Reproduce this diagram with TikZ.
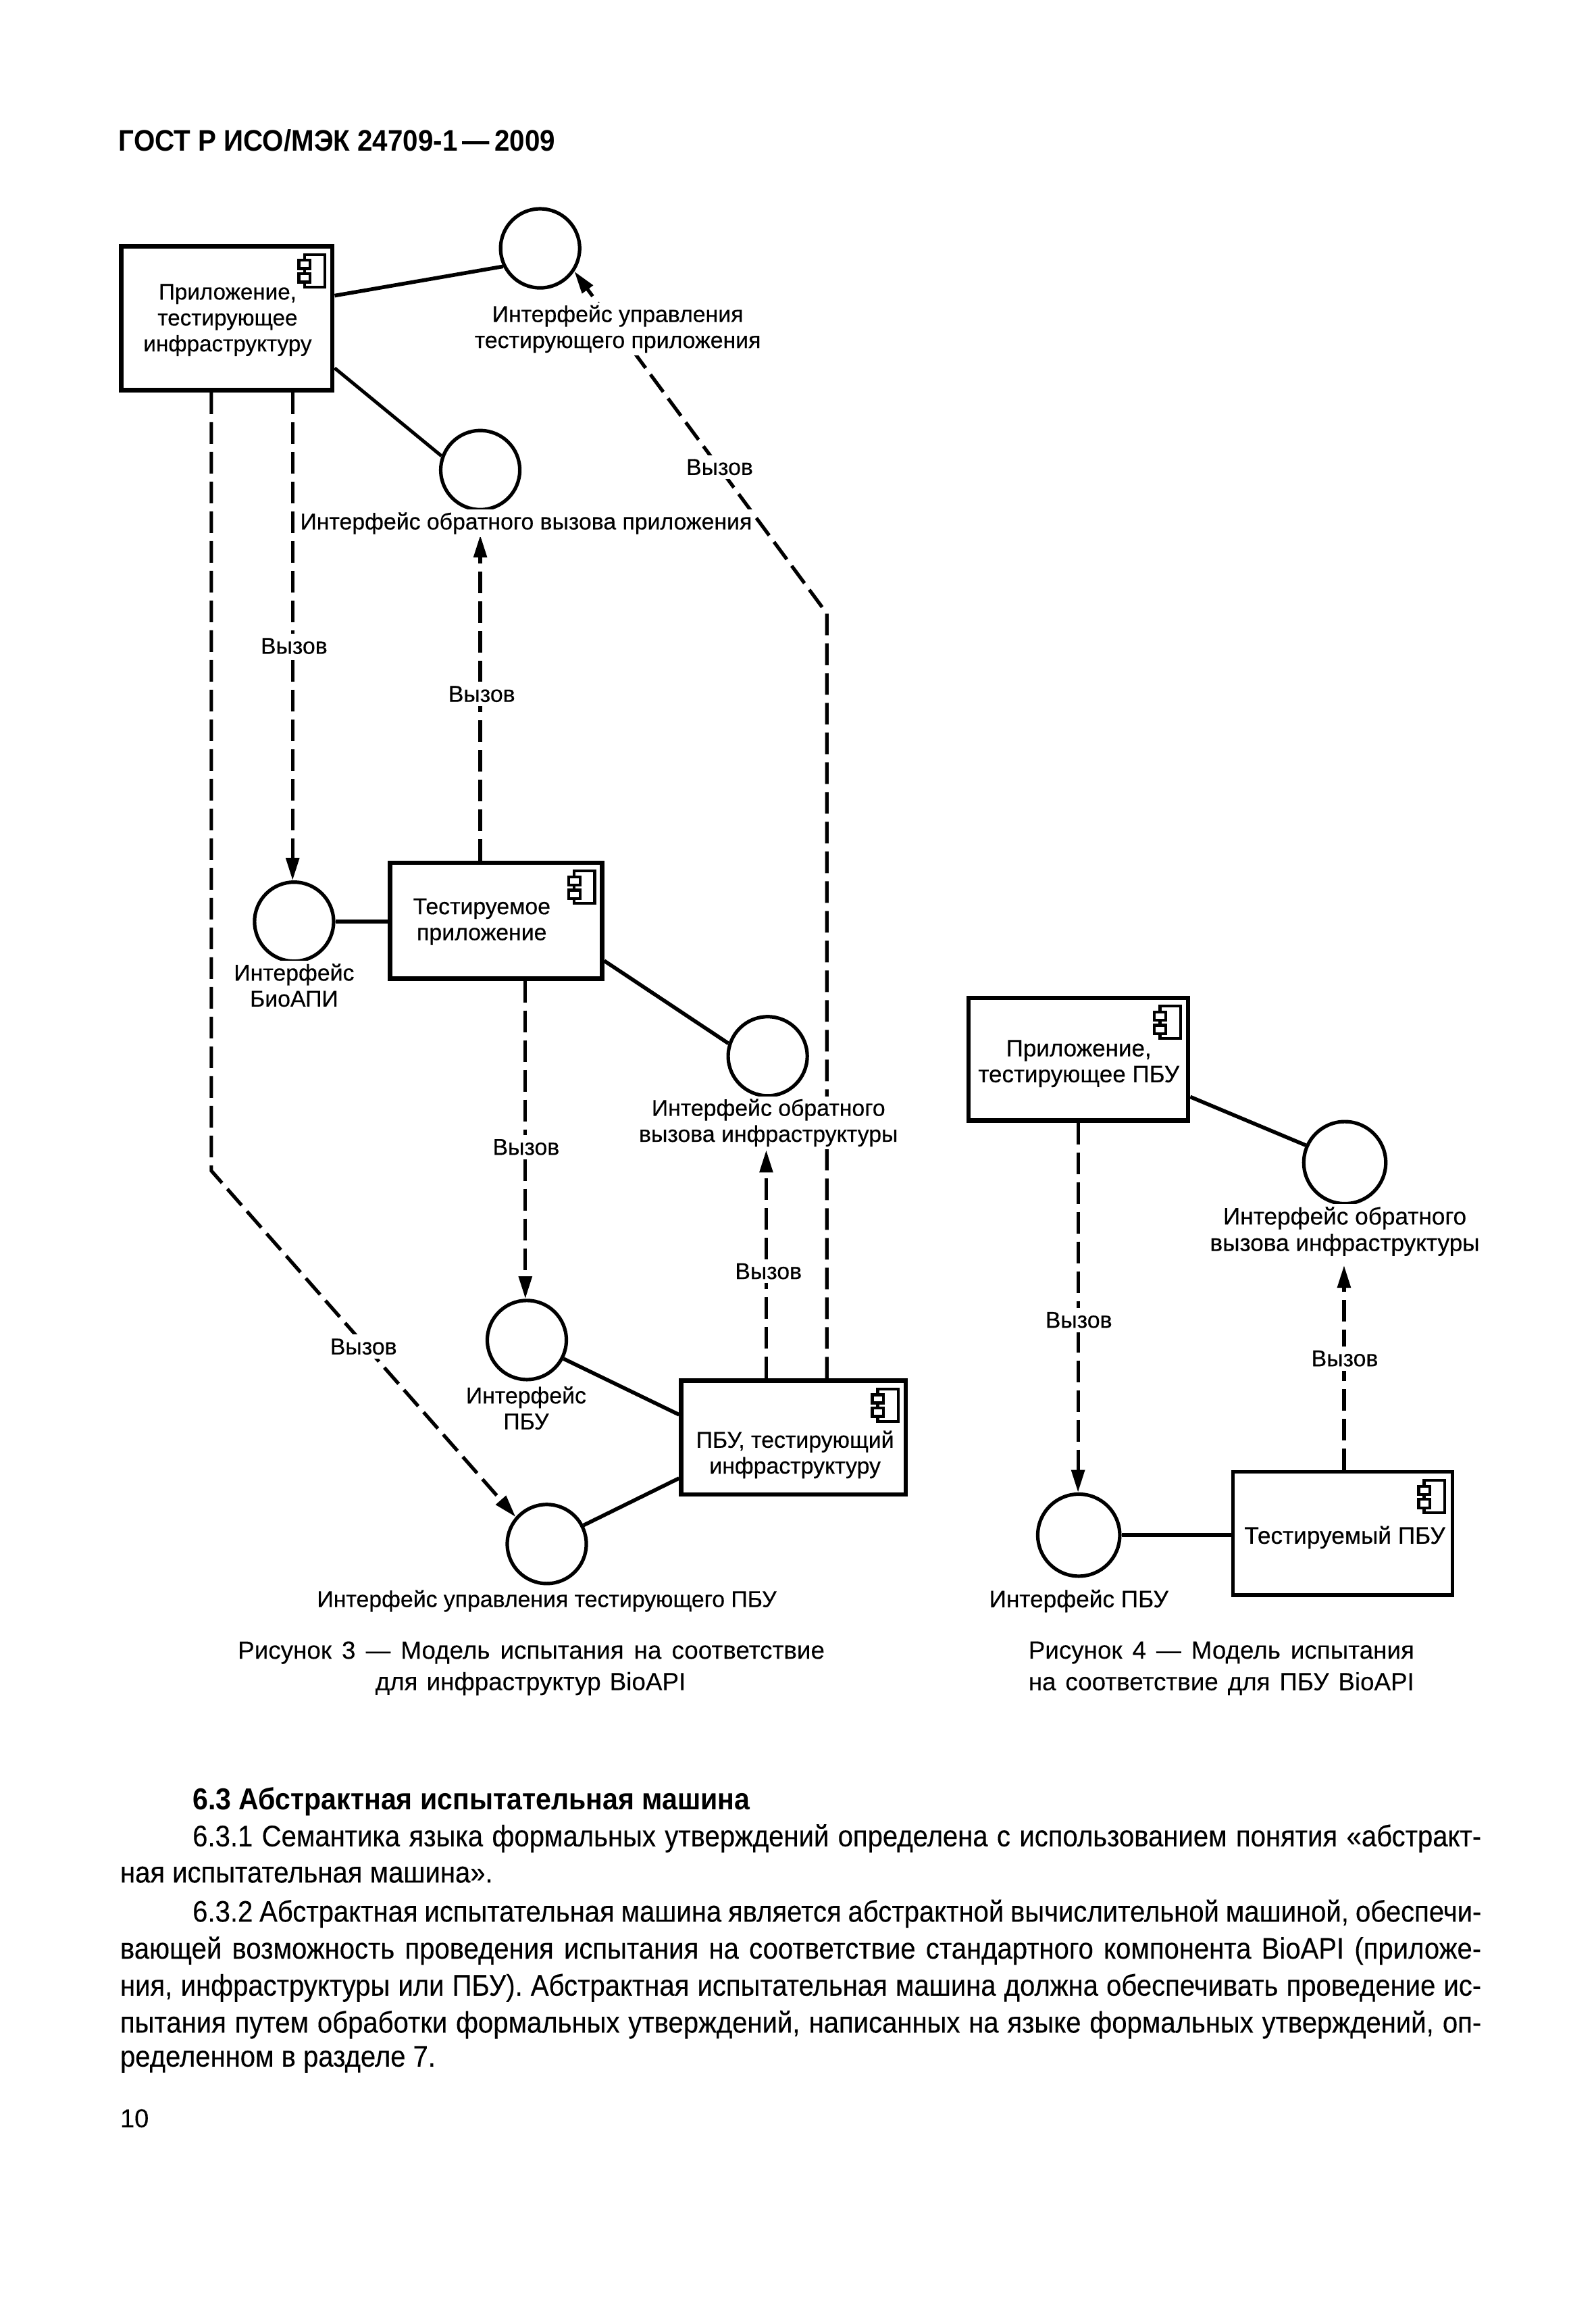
\documentclass[tikz,border=0pt]{standalone}
\usepackage{fontspec}
\setmainfont{Liberation Sans}
\newfontfamily\labfont[FakeBold=0.4]{Liberation Sans}
\newfontfamily\capfont[FakeBold=0.1]{Liberation Sans}
\newfontfamily\bodyfont[FakeStretch=0.91,FakeBold=0.2]{Liberation Sans}
\newfontfamily\boldfont[FakeStretch=0.917]{Liberation Sans Bold}
\usetikzlibrary{arrows.meta,calc}
\def\U{0.547pt}
\newcommand{\bodyline}[3]{\node[txt,anchor=base west] (#1) at (#2) {#3};}
\tikzset{
  x=0.547pt,y=-0.547pt,
  compbox/.style={draw=black,line width=1.6pt,fill=white,inner sep=0pt},
  iface/.style={circle,draw=black,line width=1.3pt,fill=white,inner sep=0pt,minimum size={53.5*\U}},
  solidlink/.style={draw=black,line width=1.4pt},
  dashcall/.style={draw=black,line width=1.3pt,dash pattern=on 8pt off 3pt,-{Triangle[length=8.3pt,width=4.8pt]}},
  lab/.style={fill=white,inner sep=1pt,align=center,font=\labfont\fontsize{8.45}{9.6}\selectfont},
  biglab/.style={lab,font=\labfont\fontsize{8.8}{9.8}\selectfont},
  boxtext/.style={inner sep=0pt,align=center,font=\labfont\fontsize{8.45}{9.6}\selectfont},
  call/.style={lab,inner sep=1.5pt},
  captext/.style={inner sep=0pt,font=\capfont\fontsize{9.2}{11}\selectfont},
  txt/.style={inner sep=0pt,font=\bodyfont\fontsize{11}{13}\selectfont},
  compicon/.pic={
    \draw[line width=1.05pt,fill=white] (-15,1) rectangle (-1,23);
    \draw[line width=1.05pt,fill=white] (-18.7,5) rectangle (-11,10.5);
    \draw[line width=1.05pt,fill=white] (-18.7,14) rectangle (-11,19.7);
  }
}
\begin{document}
\begin{tikzpicture}
\useasboundingbox[fill=white] (0,0) rectangle (1080,1565.4);

% boxes
\node[compbox,minimum width={143*\U},minimum height={97.4*\U}] (b1) at (153.5,215.3) {};
\node[compbox,minimum width={143.5*\U},minimum height={78.4*\U}] (b2) at (335.75,622.8) {};
\node[compbox,minimum width={152*\U},minimum height={77*\U}] (b3) at (537,972.5) {};
\node[compbox,minimum width={148.5*\U},minimum height={83*\U}] (b4) at (729.75,716.5) {};
\node[compbox,line width=1.3pt,minimum width={148.5*\U},minimum height={83.5*\U}] (b5) at (908.75,1037.3) {};

% interfaces
\node[iface] (c1) at (365.5,168) {};
\node[iface] (c2) at (325,318) {};
\node[iface] (c3) at (199,623.5) {};
\node[iface] (c4) at (519.5,714.5) {};
\node[iface] (c5) at (356.5,906.5) {};
\node[iface] (c6) at (370,1044.5) {};
\node[iface,minimum size={55.5*\U}] (c7) at (910,786.5) {};
\node[iface,minimum size={55.5*\U}] (c8) at (730,1038.5) {};

% icons
\pic at ([xshift={-5.5*\U},yshift={-6*\U}]b1.north east) {compicon};
\pic at ([xshift={-5.5*\U},yshift={-6*\U}]b2.north east) {compicon};
\pic at ([xshift={-5.5*\U},yshift={-6*\U}]b3.north east) {compicon};
\pic at ([xshift={-5.5*\U},yshift={-6*\U}]b4.north east) {compicon};
\pic at ([xshift={-5.5*\U},yshift={-6*\U}]b5.north east) {compicon};

% solid links
\draw[solidlink] (b1.east |- 0,200) -- (c1.206);
\draw[solidlink,line width=1.25pt] (b1.east |- 0,249) -- (c2.160);
\draw[solidlink] (c3.east) -- (b2.west |- c3.east);
\draw[solidlink] (b2.east |- 0,650) -- (c4.162);
\draw[solidlink] (c5.-27) -- (b3.west |- 0,957);
\draw[solidlink] (c6.27) -- (b3.west |- 0,1000);
\draw[solidlink] (b4.east |- 0,742) -- (c7.156);
\draw[solidlink] (c8.east) -- (b5.west |- c8.east);

% dashed calls
\draw[dashcall] (143,0 |- b1.south) -- (143,792) -- (c6.139);
\draw[dashcall] (198,0 |- b1.south) -- (c3.north -| 198,0);
\draw[dashcall] (325,0 |- b2.north) -- (325,362);
\draw[dashcall] (559.5,0 |- b3.north) -- (559.5,415) -- (c1.-34);
\draw[dashcall] (355.5,0 |- b2.south) -- (c5.north -| 355.5,0);
\draw[dashcall] (518.5,0 |- b3.north) -- (518.5,778);
\draw[dashcall] (b4.south -| 729.5,0) -- (c8.north -| 729.5,0);
\draw[dashcall] (909.5,0 |- b5.north) -- (909.5,856);

% box texts
\node[boxtext,font=\labfont\fontsize{8.3}{9.6}\selectfont] (b1t) at (154,216.5) {Приложение,\\тестирующее\\инфраструктуру};
\node[boxtext] (b2t) at (326,623.5) {Тестируемое\\приложение};
\node[boxtext] (b3t) at (538,984) {ПБУ, тестирующий\\инфраструктуру};
\node[boxtext,font=\labfont\fontsize{8.75}{9.6}\selectfont] (b4t) at (730,719.5) {Приложение,\\тестирующее ПБУ};
\node[boxtext,font=\labfont\fontsize{8.8}{9.6}\selectfont] (b5t) at (910,1040) {Тестируемый ПБУ};

% interface labels
\node[lab] (l1) at (418,222.5) {Интерфейс управления\\тестирующего приложения};
\node[lab] (l2) at (356,354) {Интерфейс обратного вызова приложения};
\node[lab] (l3) at (199,666.5) {Интерфейс\\БиоАПИ};
\node[lab] (l4) at (520,759.5) {Интерфейс обратного\\вызова инфраструктуры};
\node[lab] (l5) at (356,952.5) {Интерфейс\\ПБУ};
\node[lab] (l6) at (370,1083) {Интерфейс управления тестирующего ПБУ};
\node[biglab] (l7) at (910,833) {Интерфейс обратного\\вызова инфраструктуры};
\node[biglab] (l8) at (730,1083) {Интерфейс ПБУ};

% call labels
\node[call] (v1) at (199,437) {Вызов};
\node[call] (v2) at (326,469.5) {Вызов};
\node[call] (v3) at (487,316) {Вызов};
\node[call] (v4) at (356,776) {Вызов};
\node[call] (v5) at (520,860) {Вызов};
\node[call] (v6) at (246,911) {Вызов};
\node[call] (v7) at (730,893) {Вызов};
\node[call] (v8) at (910,919) {Вызов};

% page text
\node[inner sep=0pt,anchor=base west,font=\boldfont\fontsize{11}{13}\selectfont] (hdr) at (80,102) {ГОСТ Р ИСО/МЭК 24709-1\,—\,2009};
\node[captext] (cap1a) at (359.5,1118) {\makebox[217.2pt][s]{Рисунок 3 — Модель испытания на соответствие}};
\node[captext] (cap1b) at (359,1139) {\makebox[114.9pt][s]{для инфраструктур BioAPI}};
\node[captext] (cap2a) at (826.5,1118) {\makebox[142.8pt][s]{Рисунок 4 — Модель испытания}};
\node[captext] (cap2b) at (826.5,1139) {\makebox[142.8pt][s]{на соответствие для ПБУ BioAPI}};
\node[inner sep=0pt,anchor=base west,font=\boldfont\fontsize{11.2}{13}\selectfont] (sec) at (130,1224) {6.3 Абстрактная испытательная машина};
\bodyline{t1}{130,1249}{\makebox[477pt][s]{6.3.1 Семантика языка формальных утверждений определена с использованием понятия «абстракт-}}
\bodyline{t2}{81,1273.5}{ная испытательная машина».}
\bodyline{t3}{130,1300}{\makebox[477pt][s]{6.3.2 Абстрактная испытательная машина является абстрактной вычислительной машиной, обеспечи-}}
\bodyline{t4}{81,1325}{\makebox[503.8pt][s]{вающей возможность проведения испытания на соответствие стандартного компонента BioAPI (приложе-}}
\bodyline{t5}{81,1350}{\makebox[503.8pt][s]{ния, инфраструктуры или ПБУ). Абстрактная испытательная машина должна обеспечивать проведение ис-}}
\bodyline{t6}{81,1375}{\makebox[503.8pt][s]{пытания путем обработки формальных утверждений, написанных на языке формальных утверждений, оп-}}
\bodyline{t7}{81,1398}{ределенном в разделе 7.}
\node[inner sep=0pt,anchor=base west,font=\capfont\fontsize{9.5}{11}\selectfont] (pg) at (81,1439) {10};
\end{tikzpicture}
\end{document}
